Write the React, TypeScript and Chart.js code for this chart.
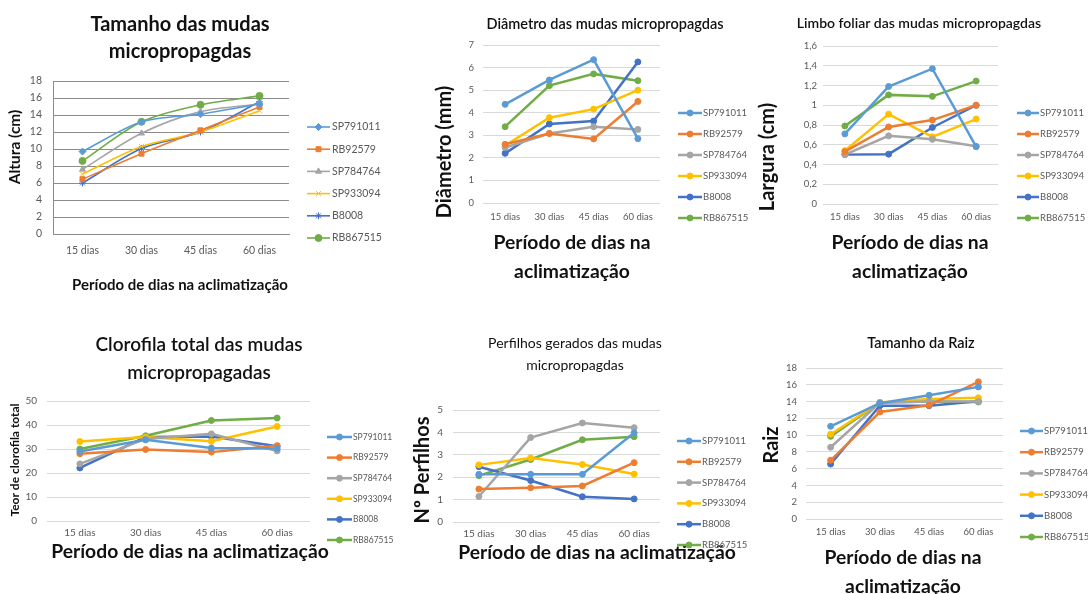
import React, { useEffect, useRef } from 'react';
import { Chart, registerables } from 'chart.js';
import { drawPoint } from 'chart.js/helpers';

Chart.register(...registerables);

const W = 1088;
const H = 594;
const FONT = 'Lato, "Noto Sans", "DejaVu Sans", sans-serif';

// ---------- data ----------
const categories = ['15 dias', '30 dias', '45 dias', '60 dias'];
const cultivars = ['SP791011', 'RB92579', 'SP784764', 'SP933094', 'B8008', 'RB867515'];
const colors = ['#5B9BD5', '#ED7D31', '#A5A5A5', '#FFC000', '#4472C4', '#70AD47'];

// series order follows `cultivars`
const alturaValues = [
  [9.7, 13.2, 14.1, 15.3],
  [6.45, 9.45, 12.2, 14.95],
  [7.6, 11.85, 14.4, 15.3],
  [7.05, 10.3, 12.0, 14.5],
  [6.0, 10.05, 12.0, 15.55],
  [8.6, 13.2, 15.2, 16.25],
];
const alturaTicks = { min: 0, max: 18, step: 2 };

const diametroValues = [
  [4.37, 5.45, 6.35, 2.85],
  [2.6, 3.08, 2.84, 4.5],
  [2.46, 3.08, 3.38, 3.26],
  [2.55, 3.78, 4.16, 5.0],
  [2.2, 3.5, 3.63, 6.25],
  [3.38, 5.2, 5.72, 5.42],
];
const diametroTicks = { min: 0, max: 7, step: 1 };

const larguraValues = [
  [0.71, 1.19, 1.37, 0.58],
  [0.53, 0.78, 0.85, 1.0],
  [0.5, 0.69, 0.655, 0.585],
  [0.54, 0.91, 0.68, 0.86],
  [0.5, 0.505, 0.775, 1.0],
  [0.79, 1.105, 1.09, 1.245],
];
const larguraTicks = { min: 0, max: 1.6, step: 0.2 };

const clorofilaValues = [
  [29.0, 33.8, 30.4, 30.2],
  [28.0, 29.8, 28.7, 31.4],
  [23.8, 34.2, 36.3, 29.2],
  [33.1, 35.0, 33.2, 39.4],
  [22.1, 35.0, 35.2, 31.1],
  [30.0, 35.5, 41.9, 42.9],
];
const clorofilaTicks = { min: 0, max: 50, step: 10 };

const perfilhosValues = [
  [2.13, 2.13, 2.13, 3.98],
  [1.47, 1.53, 1.61, 2.65],
  [1.14, 3.77, 4.42, 4.21],
  [2.55, 2.86, 2.57, 2.14],
  [2.47, 1.85, 1.13, 1.03],
  [2.07, 2.79, 3.67, 3.81],
];
const perfilhosTicks = { min: 0, max: 5, step: 1 };

const raizValues = [
  [11.05, 13.8, 14.75, 15.75],
  [7.0, 12.75, 13.55, 16.35],
  [8.55, 13.85, 14.0, 14.0],
  [10.1, 13.9, 14.3, 14.45],
  [6.55, 13.5, 13.5, 14.05],
  [9.85, 13.9, 14.0, 13.95],
];
const raizTicks = { min: 0, max: 18, step: 2 };

// ---------- layout / style ----------
type Txt = { text: string; x: number; y: number; size: number; weight?: string; rotate?: boolean };
type Panel = {
  values: number[][];
  ticks: { min: number; max: number; step: number };
  area: { l: number; t: number; r: number; b: number };
  gridColor: string;
  axisLine: boolean;
  lineWidth: number;
  pointRadius: number;
  pointStyles: string[];
  tension: number;
  tickSize: number;
  yPad: number;
  xLabelY: number;
  texts: Txt[];
  legend: { x: number; len: number; y: number; dy: number; size: number; gap: number };
};

const circles = ['circle', 'circle', 'circle', 'circle', 'circle', 'circle'];
const XT = 19.3;
const YT = 20;

const panels: Panel[] = [
  {
    values: alturaValues,
    ticks: alturaTicks,
    area: { l: 53, t: 81, r: 289, b: 234 },
    gridColor: '#8C8C8C',
    axisLine: true,
    lineWidth: 1.6,
    pointRadius: 3.5,
    pointStyles: ['rectRot', 'rect', 'triangle', 'crossRot', 'star', 'circle'],
    tension: 0.3,
    tickSize: 10.5,
    yPad: 11,
    xLabelY: 251,
    texts: [
      { text: 'Tamanho das mudas', x: 180, y: 25, size: 20, weight: 'bold' },
      { text: 'micropropagdas', x: 180, y: 52, size: 20, weight: 'bold' },
      { text: 'Altura (cm)', x: 15, y: 147, size: 15.5, weight: 'bold', rotate: true },
      { text: 'Período de dias na aclimatização', x: 180, y: 285, size: 15, weight: 'bold' },
    ],
    legend: { x: 307, len: 23, y: 127, dy: 22.2, size: 10.5, gap: 2 },
  },
  {
    values: diametroValues,
    ticks: diametroTicks,
    area: { l: 483, t: 45, r: 660, b: 203 },
    gridColor: '#D9D9D9',
    axisLine: false,
    lineWidth: 2.5,
    pointRadius: 3,
    pointStyles: circles,
    tension: 0,
    tickSize: 9.5,
    yPad: 9,
    xLabelY: 217,
    texts: [
      { text: 'Diâmetro das mudas micropropagdas', x: 605, y: 24, size: 14.5, weight: '600' },
      { text: 'Diâmetro (mm)', x: 445, y: 152, size: YT, weight: 'bold', rotate: true },
      { text: 'Período de dias na', x: 572, y: 243, size: XT, weight: 'bold' },
      { text: 'aclimatização', x: 572, y: 272, size: XT, weight: 'bold' },
    ],
    legend: { x: 678, len: 24, y: 113, dy: 21, size: 9.5, gap: 1 },
  },
  {
    values: larguraValues,
    ticks: larguraTicks,
    area: { l: 823, t: 46, r: 998, b: 204 },
    gridColor: '#D9D9D9',
    axisLine: false,
    lineWidth: 2.5,
    pointRadius: 3,
    pointStyles: circles,
    tension: 0,
    tickSize: 9.5,
    yPad: 6,
    xLabelY: 217,
    texts: [
      { text: 'Limbo foliar das mudas micropropagdas', x: 919, y: 23, size: 14, weight: '600' },
      { text: 'Largura (cm)', x: 768, y: 157, size: YT, weight: 'bold', rotate: true },
      { text: 'Período de dias na', x: 910, y: 243, size: XT, weight: 'bold' },
      { text: 'aclimatização', x: 910, y: 272, size: XT, weight: 'bold' },
    ],
    legend: { x: 1017, len: 22, y: 113, dy: 21, size: 9.5, gap: 1 },
  },
  {
    values: clorofilaValues,
    ticks: clorofilaTicks,
    area: { l: 47, t: 401, r: 310, b: 521 },
    gridColor: '#D9D9D9',
    axisLine: false,
    lineWidth: 2.5,
    pointRadius: 3,
    pointStyles: circles,
    tension: 0,
    tickSize: 10,
    yPad: 10,
    xLabelY: 533,
    texts: [
      { text: 'Clorofila total das mudas', x: 199, y: 345, size: 19, weight: '600' },
      { text: 'micropropagadas', x: 199, y: 373, size: 19, weight: '600' },
      { text: 'Teor de clorofila total', x: 15, y: 460, size: 12, weight: 'bold', rotate: true },
      { text: 'Período de dias na aclimatização', x: 190, y: 552, size: XT, weight: 'bold' },
    ],
    legend: { x: 327, len: 25, y: 437, dy: 20.6, size: 8.5, gap: 1 },
  },
  {
    values: perfilhosValues,
    ticks: perfilhosTicks,
    area: { l: 453, t: 410, r: 660, b: 522 },
    gridColor: '#D9D9D9',
    axisLine: false,
    lineWidth: 2.5,
    pointRadius: 3,
    pointStyles: circles,
    tension: 0,
    tickSize: 10,
    yPad: 10,
    xLabelY: 534,
    texts: [
      { text: 'Perfilhos gerados das mudas', x: 575, y: 343, size: 14, weight: 'normal' },
      { text: 'micropropagdas', x: 575, y: 365, size: 14, weight: 'normal' },
      { text: 'Nº Perfilhos', x: 423, y: 470, size: YT, weight: 'bold', rotate: true },
      { text: 'Período de dias na aclimatização', x: 597, y: 553, size: XT, weight: 'bold' },
    ],
    legend: { x: 677, len: 24, y: 441, dy: 20.8, size: 9.5, gap: 1 },
  },
  {
    values: raizValues,
    ticks: raizTicks,
    area: { l: 806, t: 368, r: 1003, b: 519 },
    gridColor: '#D9D9D9',
    axisLine: false,
    lineWidth: 2.5,
    pointRadius: 3,
    pointStyles: circles,
    tension: 0,
    tickSize: 9.5,
    yPad: 9,
    xLabelY: 532,
    texts: [
      { text: 'Tamanho da Raiz', x: 921, y: 343, size: 14.5, weight: '600' },
      { text: 'Raiz', x: 772, y: 445, size: YT, weight: 'bold', rotate: true },
      { text: 'Período de dias na', x: 903, y: 558, size: XT, weight: 'bold' },
      { text: 'aclimatização', x: 903, y: 587, size: XT, weight: 'bold' },
    ],
    legend: { x: 1020, len: 23, y: 431, dy: 21.2, size: 9.5, gap: 1 },
  },
];

const Y_WIDTH = 40;
const X_HEIGHT = 30;

function decoPlugin(p: Panel) {
  return {
    id: 'deco',
    afterDraw(chart: any) {
      const ctx: CanvasRenderingContext2D = chart.ctx;
      ctx.save();
      for (const t of p.texts) {
        ctx.save();
        ctx.font = `${t.weight || 'normal'} ${t.size}px ${FONT}`;
        ctx.fillStyle = '#111111';
        ctx.textAlign = 'center';
        ctx.textBaseline = 'middle';
        ctx.translate(t.x, t.y);
        if (t.rotate) ctx.rotate(-Math.PI / 2);
        ctx.fillText(t.text, 0, 0);
        ctx.restore();
      }
      const lg = p.legend;
      chart.data.datasets.forEach((ds: any, i: number) => {
        const y = lg.y + i * lg.dy;
        ctx.save();
        ctx.strokeStyle = ds.borderColor;
        ctx.lineWidth = ds.borderWidth;
        ctx.beginPath();
        ctx.moveTo(lg.x, y);
        ctx.lineTo(lg.x + lg.len, y);
        ctx.stroke();
        ctx.fillStyle = ds.pointBackgroundColor;
        ctx.strokeStyle = ds.pointBorderColor;
        ctx.lineWidth = 1;
        drawPoint(ctx, { pointStyle: ds.pointStyle, rotation: 0, radius: ds.pointRadius, borderWidth: 1 } as any, lg.x + lg.len / 2, y);
        ctx.fillStyle = '#595959';
        ctx.font = `${lg.size}px ${FONT}`;
        ctx.textAlign = 'left';
        ctx.textBaseline = 'middle';
        ctx.fillText(ds.label, lg.x + lg.len + lg.gap, y);
        ctx.restore();
      });
      ctx.restore();
    },
  };
}

function makeConfig(p: Panel): any {
  const xPad = p.xLabelY - p.area.b - p.tickSize * 0.6;
  return {
    type: 'line',
    data: {
      labels: categories,
      datasets: p.values.map((vals, i) => ({
        label: cultivars[i],
        data: vals,
        borderColor: colors[i],
        backgroundColor: colors[i],
        pointBackgroundColor: colors[i],
        pointBorderColor: colors[i],
        pointBorderWidth: 1,
        borderWidth: p.lineWidth,
        pointRadius: p.pointRadius,
        pointStyle: p.pointStyles[i],
        tension: p.tension,
        fill: false,
      })),
    },
    options: {
      responsive: false,
      animation: false,
      devicePixelRatio: 1,
      events: [],
      layout: {
        padding: {
          left: p.area.l - Y_WIDTH,
          top: p.area.t,
          right: W - p.area.r,
          bottom: H - p.area.b - X_HEIGHT,
        },
      },
      plugins: {
        legend: { display: false },
        title: { display: false },
        tooltip: { enabled: false },
      },
      scales: {
        x: {
          type: 'category',
          offset: true,
          grid: { display: false, drawTicks: false },
          border: { display: p.axisLine, color: p.gridColor, width: 1 },
          ticks: {
            padding: xPad,
            color: '#595959',
            font: { family: FONT, size: p.tickSize },
            maxRotation: 0,
            autoSkip: false,
          },
          afterFit: (s: any) => {
            s.height = X_HEIGHT;
          },
        },
        y: {
          type: 'linear',
          min: p.ticks.min,
          max: p.ticks.max,
          grid: { color: p.gridColor, lineWidth: 1, drawTicks: false },
          border: { display: p.axisLine, color: p.gridColor, width: 1 },
          ticks: {
            stepSize: p.ticks.step,
            padding: p.yPad,
            color: '#595959',
            font: { family: FONT, size: p.tickSize },
            callback: (v: any) => String(Math.round(Number(v) * 10) / 10).replace('.', ','),
          },
          afterFit: (s: any) => {
            s.width = Y_WIDTH;
          },
        },
      },
    },
    plugins: [decoPlugin(p)],
  };
}

function PanelChart({ panel }: { panel: Panel }) {
  const ref = useRef<HTMLCanvasElement | null>(null);
  useEffect(() => {
    if (!ref.current) return;
    const chart = new Chart(ref.current, makeConfig(panel));
    return () => chart.destroy();
  }, [panel]);
  return (
    <canvas
      ref={ref}
      width={W}
      height={H}
      style={{ position: 'absolute', left: 0, top: 0, width: W, height: H }}
    />
  );
}

export default function App() {
  return (
    <div
      style={{
        position: 'absolute',
        left: 0,
        top: 0,
        width: W,
        height: H,
        background: '#ffffff',
        overflow: 'hidden',
      }}
    >
      {panels.map((p, i) => (
        <PanelChart key={i} panel={p} />
      ))}
    </div>
  );
}
